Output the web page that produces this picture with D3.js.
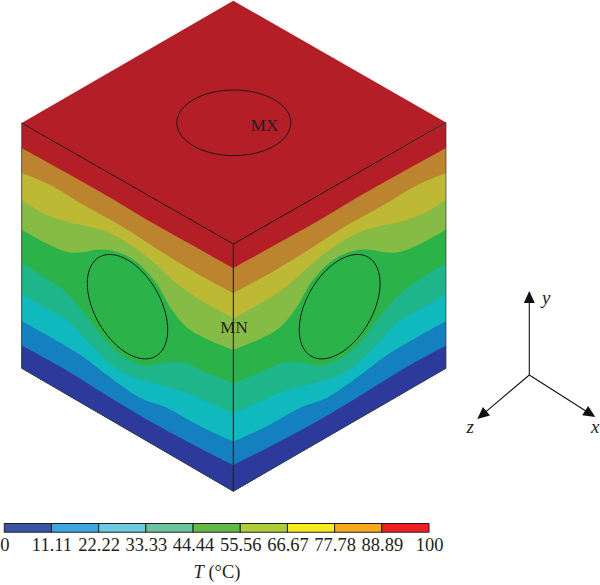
<!DOCTYPE html>
<html><head><meta charset="utf-8">
<script src="https://cdn.jsdelivr.net/npm/d3@7"></script>
<style>html,body{margin:0;padding:0;background:#fff}svg{display:block}text{font-family:"Liberation Serif",serif;fill:#231f20}</style>
</head><body><svg id="c" width="600" height="585"></svg>
<script>
// Isotherm boundaries on a side face: u = % along the horizontal edge (0 outer corner, 100 centre edge), h = % of face height
const isoRedOrangeU=[0,21.3,44.9,60.6,80.3,100], isoRedOrangeH=[89.8,90.1,90.2,89.8,90,90.2];
const isoOrangeYellowU=[0,13.4,29.1,44.9,57.5,68.5,84.3,100], isoOrangeYellowH=[79.6,81.4,81.1,81.3,80.8,80.1,79.7,80.2];
const isoYellowLimeU=[0,10.2,21.3,32.3,41.7,52.8,63.8,73.2,87.4,100], isoYellowLimeH=[68.7,68.3,70.3,73.7,75.7,75.7,73.7,70.9,69.7,70];
const isoLimeGreenU=[0,10.2,21.3,27.6,37,44.9,54.3,63.8,70.1,78,87.4,100], isoLimeGreenH=[56.5,56.7,58.1,60.9,66.8,69.8,70.3,66.2,59.8,55.5,55.4,57.2];
const isoGreenTealU=[0,10.2,19.7,26,32.3,40.2,49.6,59.1,68.5,76.4,87.4,100], isoGreenTealH=[42.9,42.5,41.7,39.3,35.6,30.7,28.6,30.5,36.6,40.4,41.8,43.7];
const isoTealCyanU=[0,10.2,21.3,30.7,41.7,52.8,63.8,78,89,100], isoTealCyanH=[30.3,30.2,30.2,26.7,22.6,22.6,25.4,29,30.3,31.6];
const isoCyanBlueU=[0,13.4,29.1,41.7,55.9,68.5,84.3,100], isoCyanBlueH=[19.3,19.5,19.2,17.2,16,18.2,18.5,20.1];
const isoBlueNavyU=[0,21.3,41.7,60.6,79.5,100], isoBlueNavyH=[9.3,9.8,9,8.8,9.4,10.6];
const bandColors=["#b41e26","#bd8430","#bdb934","#86bc45","#2bb34a","#1fb58a","#10b9bd","#1580bf","#2e3a9b"];
const holeCenter=[50,50], holeRadius=19;
const markerLabels=["MX","MN"];
// Colour bar
const barTicks=[0,11.11,22.22,33.33,44.44,55.56,66.67,77.78,88.89,100];
const barColors=["#3a53a4","#3ba7e0","#6bcbe0","#6dc5a0","#63b946","#aecf38","#f8ec20","#f7a81b","#ee2024"];
const barTitle="(°C)";
// Triad axes: names and direction
const triadNames=["y","x","z"];
const triadDX=[0,66,-52], triadDY=[-84,42,44];

const svg=d3.select("#c");
const ink="#1a1a1a";
const isoU=[isoRedOrangeU,isoOrangeYellowU,isoYellowLimeU,isoLimeGreenU,isoGreenTealU,isoTealCyanU,isoCyanBlueU,isoBlueNavyU];
const isoH=[isoRedOrangeH,isoOrangeYellowH,isoYellowLimeH,isoLimeGreenH,isoGreenTealH,isoTealCyanH,isoCyanBlueH,isoBlueNavyH];

const faces=[{x:d3.scaleLinear([0,100],[21.7,233.3])},{x:d3.scaleLinear([0,100],[446,233.3])}];
const yTop=d3.scaleLinear([0,100],[123,244]), yBot=d3.scaleLinear([0,100],[368.3,491.3]);
const yFace=(u,h)=>yBot(u)+(yTop(u)-yBot(u))*h/100;

faces.forEach(f=>{
  const full=d3.area().x(u=>f.x(u)).y0(u=>yBot(u)).y1(u=>yTop(u));
  svg.append("path").attr("d",full([0,100])).attr("fill",bandColors[0]);
  isoU.forEach((us,i)=>{
    const a=d3.area().x((d)=>f.x(d[0])).y0(d=>yBot(d[0])).y1(d=>yFace(d[0],d[1])).curve(d3.curveCatmullRom.alpha(.5));
    svg.append("path").attr("d",a(us.map((u,j)=>[u,isoH[i][j]]))).attr("fill",bandColors[i+1]);
  });
  const ring=d3.range(0,360,5).map(t=>{const r=t*Math.PI/180,u=holeCenter[0]+holeRadius*Math.cos(r),h=holeCenter[1]+holeRadius*Math.sin(r);return [f.x(u),yFace(u,h)];});
  svg.append("path").attr("d",d3.line().curve(d3.curveCatmullRomClosed)(ring)).attr("fill","none").attr("stroke",ink).attr("stroke-width",1);
});

// Top face
const apex=[233.3,.7], left=[21.7,123], right=[446,122.6];
const topX=(a,b)=>apex[0]+(left[0]-apex[0])*a/100+(right[0]-apex[0])*b/100;
const topY=(a,b)=>apex[1]+(left[1]-apex[1])*a/100+(right[1]-apex[1])*b/100;
svg.append("path").attr("d",d3.line()([[0,0],[100,0],[100,100],[0,100]].map(d=>[topX(d[0],d[1]),topY(d[0],d[1])]))+"Z").attr("fill",bandColors[0]);
const topRing=d3.range(0,360,5).map(t=>{const r=t*Math.PI/180,a=holeCenter[0]+holeRadius*Math.cos(r),b=holeCenter[1]+holeRadius*Math.sin(r);return [topX(a,b),topY(a,b)];});
svg.append("path").attr("d",d3.line().curve(d3.curveCatmullRomClosed)(topRing)).attr("fill","none").attr("stroke",ink).attr("stroke-width",1);

// Cube edges
const edge=(p,w,c)=>svg.append("path").attr("d",d3.line()(p)).attr("fill","none").attr("stroke",c||ink).attr("stroke-width",w);
edge([left,[233.3,244],right],1);
edge([[233.3,244],[233.3,491.3]],1);
edge([left,[21.7,368.3],[233.3,491.3],[446,368.3],right],.7,"#333");

// Marker labels
svg.append("text").attr("x",264.5).attr("y",131).attr("text-anchor","middle").attr("font-size",17).text(markerLabels[0]);
svg.append("text").attr("x",234).attr("y",332.5).attr("text-anchor","middle").attr("font-size",17).text(markerLabels[1]);

// Colour bar
const bx=d3.scaleLinear([0,100],[4.3,429]);
const step=(bx.range()[1]-bx.range()[0])/barColors.length;
barColors.forEach((c,i)=>svg.append("rect").attr("x",bx.range()[0]+i*step).attr("y",523.5).attr("width",step).attr("height",8.7).attr("fill",c).attr("stroke","#231f20").attr("stroke-width",1));
const ax=d3.axisBottom(bx).tickValues(barTicks).tickSize(0).tickPadding(0).tickFormat(d=>d===0||d===100?String(d):d.toFixed(2));
const g=svg.append("g").attr("transform","translate(0,538)").call(ax);
g.select(".domain").remove();
g.selectAll("text").attr("font-size",18.5).attr("font-family","Liberation Serif").attr("fill","#231f20").attr("dy",0).attr("y",13);
const title=svg.append("text").attr("x",217).attr("y",578).attr("text-anchor","middle").attr("font-size",18.5);
title.append("tspan").attr("font-style","italic").text("T");
title.append("tspan").text(" "+barTitle);

// Triad
const ox=529.3, oy=375;
const labelOff=[[17,9],[0,12],[-7,10]];
triadNames.forEach((n,i)=>{
  const tx=ox+triadDX[i], ty=oy+triadDY[i], L=Math.hypot(triadDX[i],triadDY[i]), ux=triadDX[i]/L, uy=triadDY[i]/L;
  edge([[ox,oy],[tx-ux*8,ty-uy*8]],1.1,"#111");
  const hl=12,hw=5.5,bx0=tx-ux*hl,by0=ty-uy*hl;
  svg.append("path").attr("d",d3.line()([[tx,ty],[bx0-uy*hw,by0+ux*hw],[bx0+uy*hw,by0-ux*hw]])+"Z").attr("fill","#111");
  svg.append("text").attr("x",tx+labelOff[i][0]).attr("y",ty+labelOff[i][1]+4).attr("text-anchor","middle").attr("font-style","italic").attr("font-size",19).text(n);
});
</script></body></html>
